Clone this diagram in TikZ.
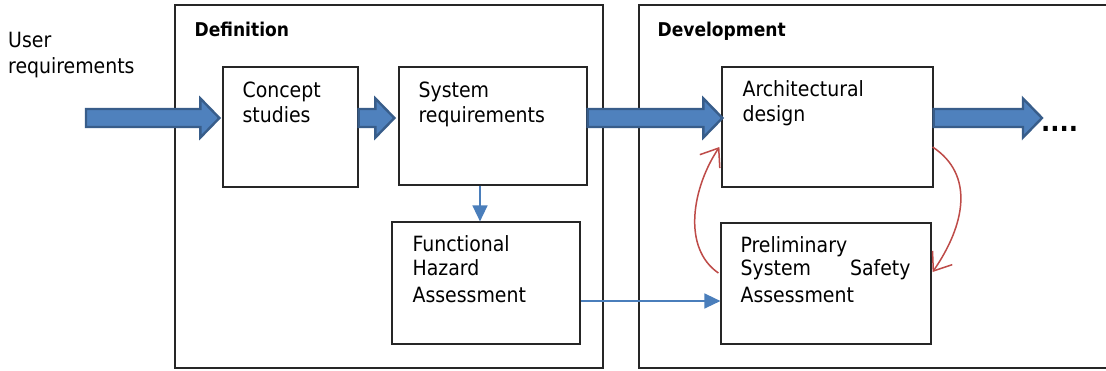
\documentclass[tikz,border=0pt]{standalone}
\usepackage{fontspec}
\setmainfont{DejaVu Sans Condensed}
\usetikzlibrary{arrows.meta,calc}

\definecolor{arrowfill}{HTML}{4F81BD}
\definecolor{arrowedge}{HTML}{385D8A}
\definecolor{linkblue}{HTML}{4A7EBB}
\definecolor{loopred}{HTML}{BE4B48}

% broad block arrow between two points on the same horizontal line
\newcommand\blockarrow[2]{%
  \path[bigarrow] ($(#1)+(0,-9)$) -- ($(#2)+(-19,-9)$) -- ($(#2)+(-19,-19.5)$)
    -- (#2) -- ($(#2)+(-19,19.5)$) -- ($(#2)+(-19,9)$) -- ($(#1)+(0,9)$) -- cycle;}

\begin{document}
\begin{tikzpicture}[x=1pt,y=-1pt,
  phase/.style={draw=black!85, line width=1.2pt, inner sep=0pt},
  stepbox/.style={draw=black!85, line width=1.2pt, inner sep=0pt},
  % multi-line labels are placed by the baseline of their last line
  txt/.style={inner sep=0pt, anchor=base west, align=left,
    font=\fontsize{21}{25}\selectfont},
  head/.style={inner sep=0pt, anchor=base west,
    font=\fontsize{19}{21}\selectfont\bfseries},
  bigarrow/.style={fill=arrowfill, draw=arrowedge, line width=2.4pt, line join=miter},
  link/.style={draw=linkblue, line width=1.5pt, -{Triangle[length=16pt,width=15pt]}},
  loop/.style={draw=loopred, line width=1.5pt, -{Straight Barb[length=16pt,width=24pt,line width=1.5pt]}}]

\useasboundingbox[fill=white] (0,0) rectangle (1106,370);
\clip (0,0) rectangle (1106,370);

% phases
\node[phase, minimum width=428pt, minimum height=363pt] (def) at (389,186.5) {};
\node[phase, minimum width=490pt, minimum height=363pt] (dev) at (884,186.5) {};
\node[head] (defl) at ($(def.north west)+(20,32)$) {Definition};
\node[head] (devl) at ($(dev.north west)+(19,32)$) {Development};

% activities
\node[stepbox, minimum width=135pt, minimum height=120pt] (cs) at (290.5,127) {};
\node[stepbox, minimum width=188pt, minimum height=118pt] (sr) at (493,126) {};
\node[stepbox, minimum width=188pt, minimum height=122pt] (fha) at (486,283) {};
\node[stepbox, minimum width=211pt, minimum height=120pt] (ad) at (827.5,127) {};
\node[stepbox, minimum width=210pt, minimum height=121pt] (pssa) at (826,283.5) {};

\node[txt] (user) at (8,73) {User\\[1pt]requirements};
\node[txt] (cst) at ($(cs.north west)+(20,56)$) {Concept\\studies};
\node[txt] (srt) at ($(sr.north west)+(20,56)$) {System\\requirements};
\node[txt] (adt) at ($(ad.north west)+(21,55)$) {Architectural\\design};
\node[txt, font=\fontsize{21}{24}\selectfont] (fhat) at ($(fha.north west)+(21,81)$)
  {Functional\\Hazard\\[3pt]Assessment};
\node[txt, font=\fontsize{21}{23}\selectfont] (pssat) at ($(pssa.north west)+(20,80.5)$)
  {Preliminary\\\makebox[170pt][l]{System\hfill Safety}\\[4pt]Assessment};

% main flow
\coordinate (in) at (86,118);
\coordinate (out) at (1042,118);
\blockarrow{in}{$(cs.west)+(-3,-9)$}
\blockarrow{$(cs.east)+(0,-9)$}{$(sr.west)+(-4,-8)$}
\blockarrow{$(sr.east)+(0,-8)$}{$(ad.west)+(1,-9)$}
\blockarrow{$(ad.east)+(0,-9)$}{out}
\node[inner sep=0pt, anchor=base west, font=\fontsize{27}{27}\selectfont\bfseries]
  (more) at (1041,131) {....};

% hazard assessment links
\draw[link] (sr.south -| 480,0) -- (fha.north -| 480,0);
\draw[link] (fha.east |- 0,301) -- (pssa.west |- 0,301);

% design / safety iteration
\draw[loop] ($(pssa.west)+(-2,-10.5)$) .. controls (682,248) and (692,188) .. ($(ad.west)+(-2,20)$);
\draw[loop] ($(ad.east)+(-1,20)$) .. controls (975,175) and (965,225) .. ($(pssa.east)+(1,-11.5)$);
\end{tikzpicture}
\end{document}
